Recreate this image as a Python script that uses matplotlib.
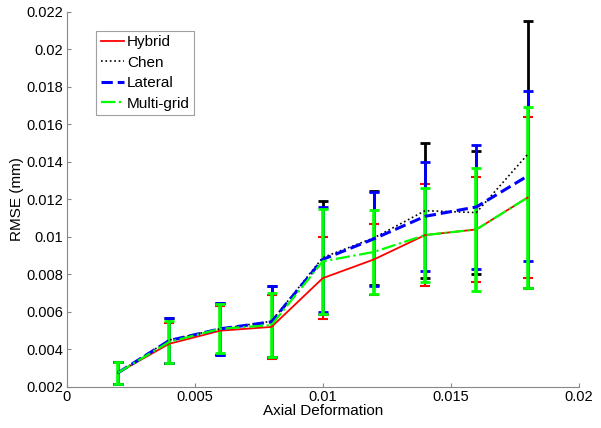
import numpy as np
import matplotlib
matplotlib.use("Agg")
import matplotlib.pyplot as plt

plt.rcParams['font.family'] = ['Liberation Sans', 'DejaVu Sans']

# axial deformation steps
deform = [0.002, 0.004, 0.006, 0.008, 0.010, 0.012, 0.014, 0.016, 0.018]

# mean RMSE (mm) per method
hybrid_mean = [0.00275, 0.0043, 0.0050, 0.0052, 0.0078, 0.0088, 0.0101, 0.0104, 0.0121]
chen_mean = [0.00275, 0.0045, 0.0051, 0.0055, 0.0089, 0.00995, 0.0114, 0.0113, 0.0144]
lateral_mean = [0.00275, 0.00447, 0.0051, 0.00547, 0.0088, 0.0099, 0.0111, 0.0116, 0.01325]
multi_mean = [0.00275, 0.0044, 0.0051, 0.0053, 0.0087, 0.0092, 0.0101, 0.0104, 0.0121]

# standard deviations (error bars)
hybrid_std = [0.0006, 0.0011, 0.0013, 0.0017, 0.0022, 0.0019, 0.0027, 0.0028, 0.0043]
chen_std = [0.0006, 0.0012, 0.0014, 0.0019, 0.0030, 0.0025, 0.0036, 0.0033, 0.0071]
lateral_std = [0.0006, 0.0012, 0.0014, 0.0019, 0.0028, 0.0025, 0.0029, 0.0033, 0.00455]
multi_std = [0.0006, 0.0011, 0.0013, 0.0017, 0.0028, 0.00225, 0.0025, 0.0033, 0.00485]

fig = plt.figure(figsize=(6.01, 4.28), dpi=100)
ax = fig.add_axes([0.111, 0.096, 0.852, 0.876])

ax.errorbar(deform, hybrid_mean, yerr=hybrid_std, color='#ff0000', ls='-', lw=1.3,
            elinewidth=1.5, capsize=3.6, capthick=1.5, label='Hybrid')
ax.errorbar(deform, chen_mean, yerr=chen_std, color='#000000', ls=':', lw=1.2,
            elinewidth=2, capsize=3.6, capthick=2, label='Chen')
ax.errorbar(deform, lateral_mean, yerr=lateral_std, color='#0000ff', ls='--', lw=2.2,
            elinewidth=2, capsize=3.6, capthick=2, label='Lateral')
ax.errorbar(deform, multi_mean, yerr=multi_std, color='#00ff00', ls='-.', lw=1.6,
            elinewidth=2.6, capsize=3.6, capthick=2, label='Multi-grid')

ax.set_xlim(0, 0.02)
ax.set_ylim(0.002, 0.022)
ax.set_xticks([0, 0.005, 0.01, 0.015, 0.02])
ax.set_xticklabels(['0', '0.005', '0.01', '0.015', '0.02'])
ax.set_yticks(np.arange(0.002, 0.0221, 0.002))
ax.set_yticklabels(['0.002', '0.004', '0.006', '0.008', '0.01', '0.012',
                    '0.014', '0.016', '0.018', '0.02', '0.022'])
ax.tick_params(direction='in', length=3, labelsize=10.5, color='#888888', pad=2.5)
ax.spines['top'].set_visible(False)
ax.spines['right'].set_visible(False)
ax.spines['left'].set_color('#888888')
ax.spines['bottom'].set_color('#888888')
ax.set_xlabel('Axial Deformation', fontsize=11, labelpad=0)
ax.set_ylabel('RMSE (mm)', fontsize=11, labelpad=2)

handles, labels = ax.get_legend_handles_labels()
handles = [h[0] for h in handles]
leg = ax.legend(handles, labels, loc='upper left', bbox_to_anchor=(0.058, 0.95),
                fontsize=11, frameon=True, fancybox=False, handlelength=1.5,
                borderpad=0.3, labelspacing=0.42, handletextpad=0.2, borderaxespad=0)
leg.get_frame().set_edgecolor('#888888')
leg.get_frame().set_linewidth(0.8)

fig.savefig('out.png', dpi=100)
